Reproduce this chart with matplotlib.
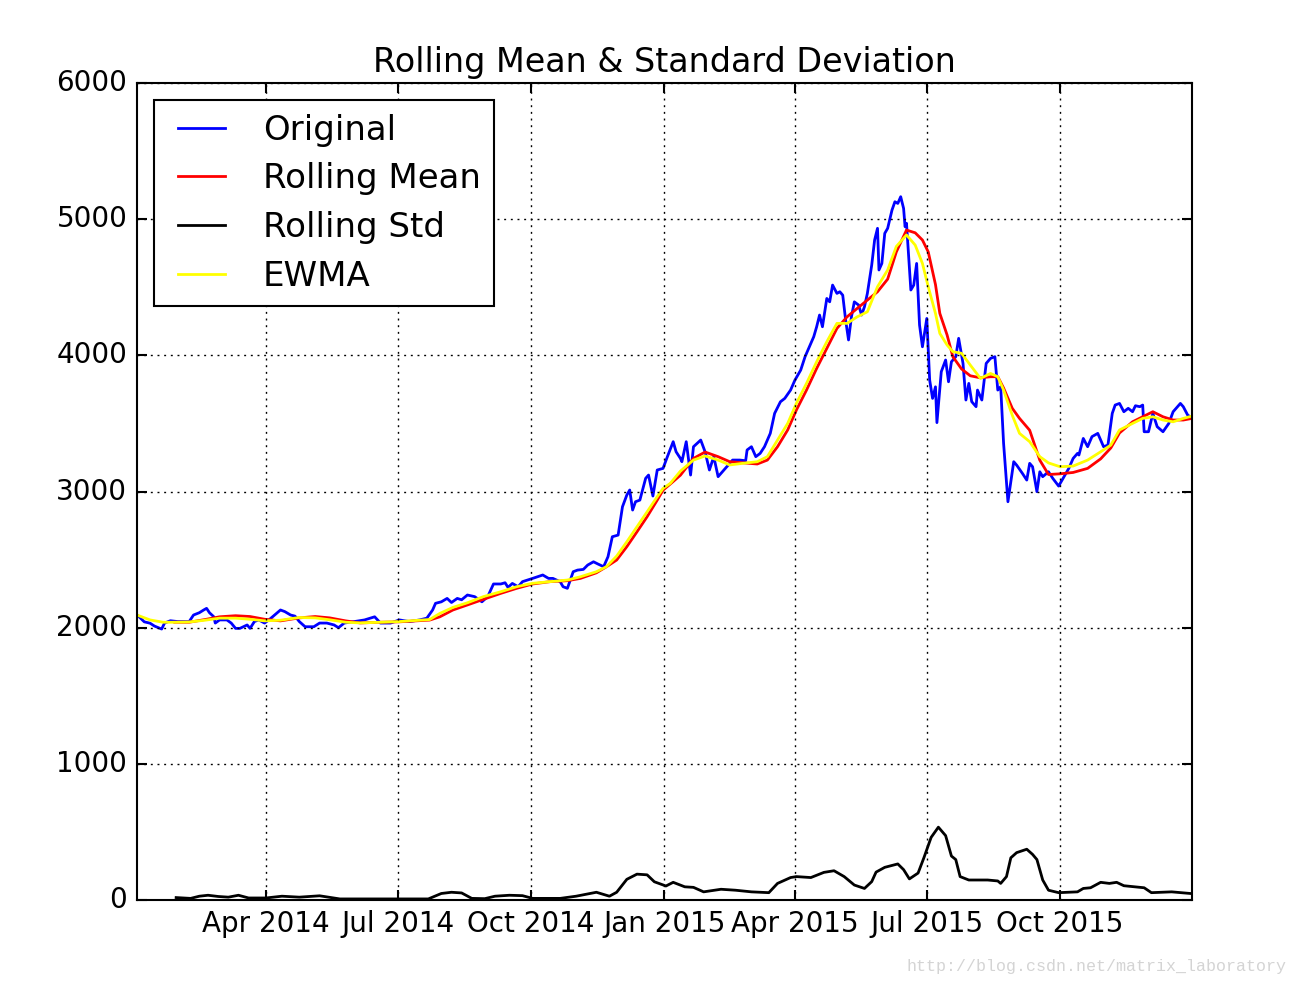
import matplotlib
matplotlib.use("Agg")
import matplotlib.pyplot as plt
import matplotlib.dates as mdates
import numpy as np
import pandas as pd

# region data
orig_dates = [
    "2014-01-02", "2014-01-07", "2014-01-11", "2014-01-14", "2014-01-19", "2014-01-21",
    "2014-01-25", "2014-01-30", "2014-02-07", "2014-02-10", "2014-02-14", "2014-02-17",
    "2014-02-19", "2014-02-21", "2014-02-24", "2014-02-25", "2014-02-28", "2014-03-05",
    "2014-03-08", "2014-03-11", "2014-03-14", "2014-03-19", "2014-03-21", "2014-03-24",
    "2014-03-27", "2014-03-31", "2014-04-03", "2014-04-07", "2014-04-11", "2014-04-14",
    "2014-04-18", "2014-04-21", "2014-04-24", "2014-04-28", "2014-05-04", "2014-05-08",
    "2014-05-13", "2014-05-18", "2014-05-21", "2014-05-25", "2014-06-01", "2014-06-08",
    "2014-06-12", "2014-06-15", "2014-06-19", "2014-06-26", "2014-07-02", "2014-07-09",
    "2014-07-16", "2014-07-21", "2014-07-25", "2014-07-27", "2014-07-31", "2014-08-04",
    "2014-08-07", "2014-08-11", "2014-08-14", "2014-08-18", "2014-08-23", "2014-08-28",
    "2014-09-01", "2014-09-05", "2014-09-10", "2014-09-13", "2014-09-15", "2014-09-18",
    "2014-09-22", "2014-09-25", "2014-10-02", "2014-10-09", "2014-10-13", "2014-10-16",
    "2014-10-21", "2014-10-23", "2014-10-26", "2014-10-30", "2014-11-02", "2014-11-06",
    "2014-11-09", "2014-11-13", "2014-11-16", "2014-11-20", "2014-11-23", "2014-11-26",
    "2014-11-30", "2014-12-03", "2014-12-06", "2014-12-08", "2014-12-10", "2014-12-12",
    "2014-12-15", "2014-12-19", "2014-12-21", "2014-12-24", "2014-12-27", "2014-12-31",
    "2015-01-03", "2015-01-07", "2015-01-09", "2015-01-12", "2015-01-13", "2015-01-16",
    "2015-01-19", "2015-01-21", "2015-01-26", "2015-01-29", "2015-02-01", "2015-02-04",
    "2015-02-07", "2015-02-12", "2015-02-17", "2015-02-22", "2015-02-26", "2015-02-27",
    "2015-03-02", "2015-03-05", "2015-03-08", "2015-03-11", "2015-03-15", "2015-03-18",
    "2015-03-22", "2015-03-25", "2015-03-29", "2015-04-01", "2015-04-05", "2015-04-08",
    "2015-04-11", "2015-04-14", "2015-04-16", "2015-04-18", "2015-04-20", "2015-04-23",
    "2015-04-25", "2015-04-27", "2015-04-30", "2015-05-02", "2015-05-04", "2015-05-06",
    "2015-05-08", "2015-05-10", "2015-05-12", "2015-05-15", "2015-05-17", "2015-05-19",
    "2015-05-21", "2015-05-24", "2015-05-26", "2015-05-28", "2015-05-29", "2015-05-31",
    "2015-06-02", "2015-06-04", "2015-06-07", "2015-06-09", "2015-06-11", "2015-06-13",
    "2015-06-15", "2015-06-16", "2015-06-17", "2015-06-20", "2015-06-22", "2015-06-24",
    "2015-06-26", "2015-06-28", "2015-07-01", "2015-07-03", "2015-07-05", "2015-07-07",
    "2015-07-08", "2015-07-11", "2015-07-14", "2015-07-16", "2015-07-18", "2015-07-21",
    "2015-07-23", "2015-07-26", "2015-07-28", "2015-07-30", "2015-08-01", "2015-08-04",
    "2015-08-05", "2015-08-08", "2015-08-11", "2015-08-14", "2015-08-17", "2015-08-19",
    "2015-08-21", "2015-08-23", "2015-08-26", "2015-08-30", "2015-09-01", "2015-09-05",
    "2015-09-08", "2015-09-10", "2015-09-12", "2015-09-15", "2015-09-17", "2015-09-19",
    "2015-09-23", "2015-09-26", "2015-09-30", "2015-10-03", "2015-10-07", "2015-10-10",
    "2015-10-13", "2015-10-14", "2015-10-17", "2015-10-20", "2015-10-23", "2015-10-25",
    "2015-10-27", "2015-10-31", "2015-11-03", "2015-11-06", "2015-11-08", "2015-11-11",
    "2015-11-14", "2015-11-17", "2015-11-20", "2015-11-22", "2015-11-25", "2015-11-27",
    "2015-11-28", "2015-12-01", "2015-12-04", "2015-12-07", "2015-12-11", "2015-12-15",
    "2015-12-18", "2015-12-21", "2015-12-23", "2015-12-25", "2015-12-28", "2015-12-31",
]
orig_values = [
    2095, 2043, 2033, 2012, 1990, 2034,
    2051, 2045, 2045, 2093, 2110, 2130,
    2142, 2110, 2080, 2034, 2057, 2057,
    2034, 1995, 1995, 2020, 1995, 2045,
    2057, 2034, 2057, 2093, 2130, 2118,
    2093, 2085, 2045, 2007, 2007, 2034,
    2034, 2020, 2000, 2034, 2045, 2057,
    2070, 2080, 2034, 2034, 2057, 2045,
    2057, 2070, 2130, 2179, 2190, 2215,
    2185, 2215, 2205, 2240, 2228, 2190,
    2228, 2321, 2321, 2330, 2296, 2325,
    2301, 2338, 2362, 2387, 2362, 2362,
    2338, 2301, 2289, 2411, 2423, 2428,
    2460, 2484, 2468, 2448, 2521, 2668,
    2680, 2888, 2974, 3011, 2864, 2925,
    2937, 3097, 3121, 2967, 3158, 3170,
    3256, 3366, 3292, 3243, 3219, 3366,
    3121, 3329, 3378, 3292, 3158, 3256,
    3109, 3170, 3231, 3231, 3226, 3305,
    3329, 3256, 3280, 3329, 3427, 3574,
    3659, 3684, 3745, 3818, 3892, 3990,
    4063, 4137, 4210, 4296, 4210, 4418,
    4393, 4516, 4455, 4467, 4442, 4259,
    4113, 4283, 4393, 4369, 4296, 4357,
    4455, 4663, 4847, 4933, 4627, 4675,
    4896, 4933, 5067, 5128, 5116, 5165,
    5079, 4945, 4970, 4480, 4516, 4675,
    4223, 4063, 4271, 3818, 3684, 3769,
    3506, 3880, 3966, 3806, 3953, 3990,
    4125, 3941, 3672, 3794, 3660, 3623,
    3745, 3672, 3941, 3978, 3990, 3745,
    3770, 3354, 2925, 3219, 3194, 3133,
    3084, 3207, 3182, 2999, 3145, 3109,
    3145, 3096, 3040, 3096, 3170, 3243,
    3280, 3268, 3390, 3329, 3403, 3415,
    3427, 3329, 3341, 3574, 3635, 3647,
    3586, 3611, 3586, 3630, 3623, 3635,
    3439, 3439, 3574, 3476, 3439, 3500,
    3586, 3623, 3647, 3623, 3562, 3539,
]

smooth_dates = [
    "2014-01-02", "2014-01-11", "2014-01-20", "2014-01-28", "2014-02-07", "2014-02-18",
    "2014-02-28", "2014-03-11", "2014-03-21", "2014-03-31", "2014-04-11", "2014-04-24",
    "2014-05-05", "2014-05-15", "2014-05-26", "2014-06-05", "2014-06-19", "2014-07-02",
    "2014-07-23", "2014-07-30", "2014-08-08", "2014-08-18", "2014-08-29", "2014-09-10",
    "2014-09-21", "2014-10-02", "2014-10-14", "2014-10-26", "2014-11-04", "2014-11-15",
    "2014-11-22", "2014-11-29", "2014-12-06", "2014-12-13", "2014-12-20", "2014-12-27",
    "2014-12-31", "2015-01-05", "2015-01-12", "2015-01-21", "2015-01-29", "2015-02-07",
    "2015-02-15", "2015-02-24", "2015-03-06", "2015-03-13", "2015-03-20", "2015-03-27",
    "2015-04-02", "2015-04-09", "2015-04-16", "2015-04-23", "2015-04-30", "2015-05-07",
    "2015-05-14", "2015-05-21", "2015-05-28", "2015-06-04", "2015-06-10", "2015-06-17",
    "2015-06-23", "2015-06-28", "2015-07-02", "2015-07-07", "2015-07-10", "2015-07-15",
    "2015-07-19", "2015-07-25", "2015-07-31", "2015-08-07", "2015-08-14", "2015-08-19",
    "2015-08-23", "2015-08-29", "2015-09-03", "2015-09-10", "2015-09-17", "2015-09-23",
    "2015-10-01", "2015-10-10", "2015-10-20", "2015-10-29", "2015-11-05", "2015-11-11",
    "2015-11-20", "2015-11-27", "2015-12-04", "2015-12-11", "2015-12-18", "2015-12-25",
    "2015-12-31",
]
rolling_mean = [
    np.nan, np.nan, np.nan, 2040, 2040, 2060,
    2080, 2088, 2082, 2062, 2050, 2072,
    2082, 2072, 2050, 2035, 2040, 2043,
    2056, 2080, 2130, 2167, 2208, 2252,
    2289, 2321, 2338, 2345, 2362, 2403,
    2448, 2497, 2595, 2704, 2815, 2937,
    3010, 3055, 3120, 3243, 3290, 3256,
    3219, 3211, 3202, 3231, 3329, 3452,
    3598, 3745, 3904, 4051, 4198, 4283,
    4345, 4406, 4467, 4560, 4760, 4920,
    4900, 4847, 4760, 4520, 4308, 4150,
    3990, 3900, 3850, 3835, 3843, 3843,
    3760, 3611, 3537, 3450, 3230, 3125,
    3130, 3140, 3170, 3240, 3320, 3430,
    3512, 3549, 3586, 3549, 3525, 3525,
    3537,
]
ewma = [
    2093, 2057, 2040, 2040, 2042, 2055,
    2070, 2070, 2062, 2050, 2055, 2075,
    2072, 2058, 2040, 2035, 2040, 2045,
    2060, 2105, 2149, 2183, 2228, 2264,
    2301, 2326, 2338, 2350, 2374, 2411,
    2448, 2526, 2631, 2741, 2851, 2962,
    3023, 3060, 3150, 3231, 3261, 3231,
    3195, 3207, 3219, 3256, 3378, 3500,
    3647, 3794, 3953, 4100, 4235, 4235,
    4283, 4320, 4504, 4627, 4800, 4884,
    4810, 4675, 4504, 4308, 4161, 4076,
    4027, 4015, 3929, 3831, 3867, 3843,
    3745, 3560, 3427, 3366, 3256, 3210,
    3182, 3187, 3231, 3292, 3341, 3452,
    3500, 3537, 3549, 3525, 3512, 3537,
    3554,
]

std_dates = [
    "2014-01-29", "2014-02-08", "2014-02-14", "2014-02-20", "2014-02-27", "2014-03-06",
    "2014-03-13", "2014-03-20", "2014-04-01", "2014-04-12", "2014-04-24", "2014-05-08",
    "2014-05-22", "2014-06-15", "2014-07-07", "2014-07-22", "2014-07-31", "2014-08-07",
    "2014-08-14", "2014-08-21", "2014-08-30", "2014-09-06", "2014-09-16", "2014-09-25",
    "2014-10-02", "2014-10-21", "2014-11-01", "2014-11-15", "2014-11-24", "2014-11-29",
    "2014-12-06", "2014-12-13", "2014-12-20", "2014-12-25", "2015-01-02", "2015-01-07",
    "2015-01-15", "2015-01-21", "2015-01-28", "2015-02-09", "2015-02-19", "2015-03-02",
    "2015-03-14", "2015-03-20", "2015-03-29", "2015-04-02", "2015-04-12", "2015-04-21",
    "2015-04-28", "2015-05-05", "2015-05-12", "2015-05-19", "2015-05-24", "2015-05-27",
    "2015-06-02", "2015-06-11", "2015-06-15", "2015-06-19", "2015-06-25", "2015-06-29",
    "2015-07-04", "2015-07-09", "2015-07-14", "2015-07-18", "2015-07-21", "2015-07-24",
    "2015-07-30", "2015-08-05", "2015-08-12", "2015-08-19", "2015-08-21", "2015-08-25",
    "2015-08-28", "2015-09-01", "2015-09-08", "2015-09-12", "2015-09-15", "2015-09-19",
    "2015-09-23", "2015-09-30", "2015-10-13", "2015-10-17", "2015-10-22", "2015-10-29",
    "2015-11-04", "2015-11-09", "2015-11-14", "2015-11-28", "2015-12-03", "2015-12-17",
    "2015-12-31",
]
rolling_std = [
    18, 12, 28, 35, 26, 21,
    35, 15, 15, 28, 21, 31,
    8, 8, 8, 8, 48, 57,
    52, 12, 10, 28, 35, 32,
    12, 12, 28, 57, 28, 57,
    152, 190, 185, 134, 103, 130,
    97, 93, 60, 79, 72, 60,
    54, 122, 165, 172, 165, 203,
    215, 172, 110, 85, 135, 205,
    240, 265, 223, 155, 198, 310,
    460, 535, 473, 323, 297, 172,
    147, 147, 147, 140, 122, 172,
    310, 348, 373, 335, 297, 147,
    72, 54, 60, 85, 90, 130,
    122, 130, 105, 90, 54, 60,
    47,
]
# endregion

plt.style.use("classic")
plt.rcParams["font.family"] = ["DejaVu Sans"]
plt.rcParams["font.size"] = 20

orig_x = pd.to_datetime(orig_dates)
smooth_x = pd.to_datetime(smooth_dates)
std_x = pd.to_datetime(std_dates)

fig = plt.figure(figsize=(13, 9.86), dpi=100, facecolor="white")
ax = fig.add_axes([0.1054, 0.0872, 0.8115, 0.8286])

ax.plot(orig_x, orig_values, color="blue", linewidth=2.0, label="Original")
ax.plot(smooth_x, rolling_mean, color="red", linewidth=2.0, label="Rolling Mean")
ax.plot(std_x, rolling_std, color="black", linewidth=2.0, label="Rolling Std")
ax.plot(smooth_x, ewma, color="yellow", linewidth=2.0, label="EWMA")

ax.set_xlim(orig_x[0], orig_x[-1])
ax.set_ylim(0, 6000)
ax.set_yticks(range(0, 6001, 1000))
ax.xaxis.set_major_locator(mdates.MonthLocator(bymonth=[1, 4, 7, 10]))
ax.xaxis.set_major_formatter(mdates.DateFormatter("%b %Y"))
ax.tick_params(direction="in", length=7, width=1.5, labelsize=20, top=True, right=True, pad=7)
for sp in ax.spines.values():
    sp.set_linewidth(1.5)
ax.grid(True, color="black", linestyle=(0, (1.4, 3.4)), linewidth=1.0)

ax.set_title("Rolling Mean & Standard Deviation", fontsize=24, pad=8)
leg = ax.legend(loc="upper left", fontsize=24.5, handlelength=2.0, handletextpad=0.8,
                borderpad=0.4, labelspacing=0.46, fancybox=False, shadow=False)
leg.get_frame().set_linewidth(1.5)
leg.get_frame().set_edgecolor("black")

fig.text(1287 / 1300, 1 - 966 / 986, "http://blog.csdn.net/matrix_laboratory",
         ha="right", va="center", fontsize=12, color="#d4d4d4", family="Liberation Mono")

fig.savefig("out.png", dpi=100, facecolor="white")
